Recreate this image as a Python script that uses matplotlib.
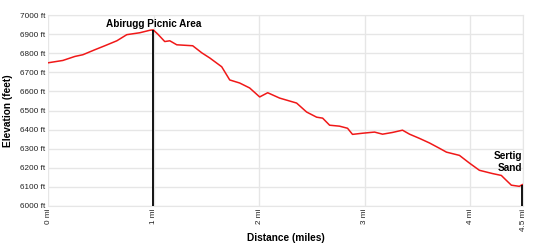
import matplotlib
matplotlib.use("Agg")
import matplotlib.pyplot as plt

plt.rcParams['font.family'] = ['Liberation Sans', 'DejaVu Sans']

dist_mi = [0.0, 0.137, 0.251, 0.327, 0.440, 0.535, 0.649, 0.743, 0.866, 0.961, 0.994,
           1.037, 1.103, 1.151, 1.217, 1.368, 1.454, 1.530, 1.643, 1.719, 1.813, 1.908,
           2.003, 2.079, 2.192, 2.353, 2.448, 2.543, 2.600, 2.666, 2.760, 2.836, 2.883,
           2.978, 3.092, 3.168, 3.262, 3.357, 3.424, 3.518, 3.613, 3.708, 3.774, 3.897,
           3.991, 4.086, 4.209, 4.294, 4.342, 4.389, 4.465, 4.493]
elev_ft = [6750, 6762, 6783, 6792, 6818, 6839, 6865, 6897, 6907, 6920, 6922,
           6900, 6861, 6865, 6844, 6839, 6802, 6775, 6729, 6660, 6644, 6618,
           6571, 6593, 6565, 6539, 6492, 6465, 6460, 6423, 6418, 6407, 6375,
           6381, 6387, 6376, 6385, 6397, 6376, 6354, 6330, 6302, 6282, 6265,
           6225, 6187, 6170, 6160, 6134, 6109, 6103, 6112]

x_ticks = [0, 1, 2, 3, 4, 4.5]
x_tick_labels = ["0 mi", "1 mi", "2 mi", "3 mi", "4 mi", "4.5 mi"]
y_ticks = list(range(6000, 7001, 100))
y_tick_labels = [f"{v} ft" for v in y_ticks]

markers = [("Abirugg Picnic Area", 0.994, 6922), ("Sertig\nSand", 4.493, 6112)]

fig = plt.figure(figsize=(5.5, 2.5), dpi=100)
ax = fig.add_axes([0.088, 0.176, 0.863, 0.764])

grid_c = "#e6e6e6"
ax.set_xlim(0, 4.5)
ax.set_ylim(6000, 7000)
ax.set_xticks(x_ticks)
ax.set_xticklabels(x_tick_labels, rotation=90, fontsize=5.9, color="#222222")
ax.set_yticks(y_ticks)
ax.set_yticklabels(y_tick_labels, fontsize=5.9, color="#222222")
ax.tick_params(length=0, pad=2)
ax.grid(True, color=grid_c, linewidth=1)
for s in ax.spines.values():
    s.set_color(grid_c)
ax.spines['left'].set_visible(False)

ax.plot(dist_mi, elev_ft, color="#f01818", linewidth=1.1, zorder=3)

for label, xm, ym in markers:
    ax.vlines(xm, 6000, ym, color="black", linewidth=1.3, zorder=4)

ax.text(markers[0][1], 6954, markers[0][0], ha="center", va="center",
        fontsize=7.2, fontweight="bold")
ax.text(4.495, 6232, markers[1][0], ha="right", va="center",
        fontsize=7.2, fontweight="bold", linespacing=1.25)

ax.set_xlabel("Distance (miles)", fontsize=7.3, fontweight="bold", labelpad=1.5)
ax.set_ylabel("Elevation (feet)", fontsize=7.3, fontweight="bold", labelpad=5)

fig.savefig("out.png", dpi=100, facecolor="white")
